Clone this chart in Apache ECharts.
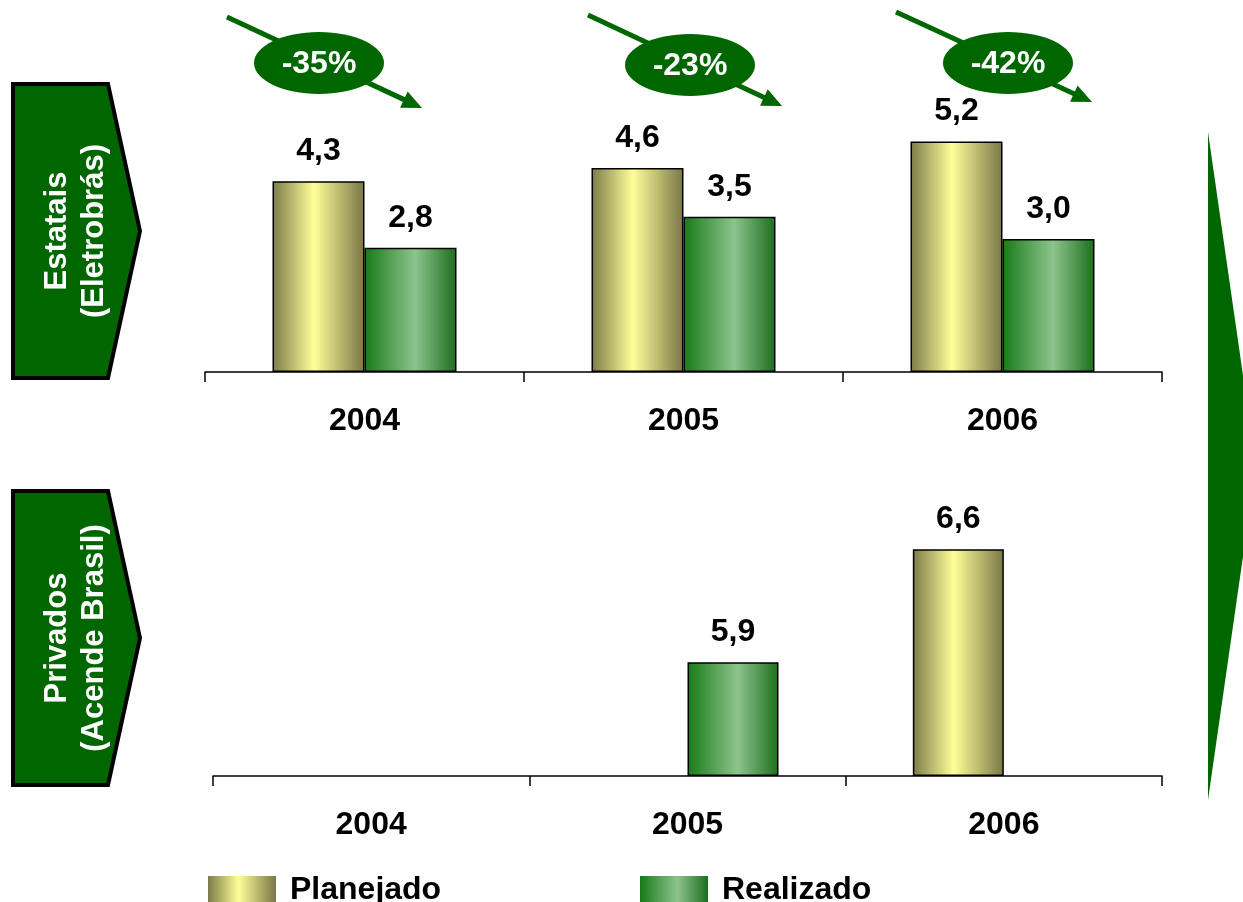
<!DOCTYPE html>
<html>
<head>
<meta charset="utf-8">
<script src="https://cdn.jsdelivr.net/npm/echarts@6/dist/echarts.min.js"></script>
<style>
html,body{margin:0;padding:0;background:#fff;}
#c{width:1243px;height:902px;}
</style>
</head>
<body>
<div id="c"></div>
<script>
var years = ['2004', '2005', '2006'];
var estatPlanejado = [4.3, 4.6, 5.2];
var estatRealizado = [2.8, 3.5, 3.0];
var privPlanejado = [null, null, 6.6];
var privRealizado = [null, 5.9, null];
var variacoes = ['-35%', '-23%', '-42%'];
var seriesNames = ['Planejado', 'Realizado'];
var panelTitles = ['Estatais\n(Eletrobrás)', 'Privados\n(Acende Brasil)'];

var FONT = '"Liberation Sans", Arial, sans-serif';
var FS = 32;
var GREEN = '#006600';

function gradPlan() {
  return new echarts.graphic.LinearGradient(0, 0, 1, 0, [
    {offset: 0, color: '#7b7b49'},
    {offset: 0.45, color: '#ffff99'},
    {offset: 1, color: '#787646'}
  ]);
}
function gradReal() {
  return new echarts.graphic.LinearGradient(0, 0, 1, 0, [
    {offset: 0, color: '#187a18'},
    {offset: 0.55, color: '#8dc48d'},
    {offset: 1, color: '#1d6e1d'}
  ]);
}
var labelCfg = {
  show: true, position: 'top', distance: 14,
  color: '#000', fontWeight: 'bold', fontSize: FS, fontFamily: FONT,
  formatter: function (p) { return p.value == null ? '' : Number(p.value).toFixed(1).replace('.', ','); }
};
function xAxisCfg(gi) {
  return {
    type: 'category', data: years, gridIndex: gi,
    axisLine: {lineStyle: {color: '#000', width: 1.5}},
    axisTick: {show: true, length: 10, lineStyle: {color: '#000', width: 1.5}},
    axisLabel: {color: '#000', fontWeight: 'bold', fontSize: FS, fontFamily: FONT, margin: 33},
    splitLine: {show: false}
  };
}
function yAxisCfg(gi, max) {
  return {type: 'value', gridIndex: gi, min: 0, max: max, show: false, splitLine: {show: false}};
}

// decorative arrows with ellipses
var arrows = [
  {x1: 227, y1: 17, x2: 422, y2: 108, cx: 319, cy: 63},
  {x1: 588, y1: 15, x2: 782, y2: 106, cx: 690, cy: 65},
  {x1: 896, y1: 12, x2: 1092, y2: 102, cx: 1008, cy: 63}
];
var graphics = [];
arrows.forEach(function (a, i) {
  var dx = a.x2 - a.x1, dy = a.y2 - a.y1, L = Math.sqrt(dx * dx + dy * dy);
  var ux = dx / L, uy = dy / L, hl = 20, hw = 9;
  var bx = a.x2 - ux * hl, by = a.y2 - uy * hl;
  graphics.push({type: 'line', shape: {x1: a.x1, y1: a.y1, x2: bx + ux * 2, y2: by + uy * 2}, style: {stroke: GREEN, lineWidth: 5}, z: 10});
  graphics.push({type: 'polygon', shape: {points: [[a.x2, a.y2], [bx - uy * hw, by + ux * hw], [bx + uy * hw, by - ux * hw]]}, style: {fill: GREEN}, z: 10});
  graphics.push({type: 'ellipse', shape: {cx: a.cx, cy: a.cy, rx: 65, ry: 31}, style: {fill: GREEN}, z: 11});
  graphics.push({type: 'text', x: a.cx, y: a.cy + 1, style: {text: variacoes[i], fill: '#fff', font: 'bold ' + FS + 'px ' + FONT, textAlign: 'center', textVerticalAlign: 'middle'}, z: 12});
});
// left pentagon labels
var pents = [{top: 84, bot: 378}, {top: 491, bot: 785}];
pents.forEach(function (p, i) {
  var mid = (p.top + p.bot) / 2;
  graphics.push({type: 'polygon', shape: {points: [[13, p.top], [108, p.top], [140, mid], [108, p.bot], [13, p.bot]]}, style: {fill: GREEN, stroke: '#000', lineWidth: 4}, z: 10});
  graphics.push({type: 'text', x: 76, y: mid, rotation: Math.PI / 2, style: {text: panelTitles[i], fill: '#fff', font: 'bold 31px ' + FONT, textAlign: 'center', textVerticalAlign: 'middle', lineHeight: 37}, z: 12});
});
// right big arrow
graphics.push({type: 'polygon', shape: {points: [[1208, 132], [1256, 466], [1208, 800]]}, style: {fill: GREEN}, z: 10});

var chart = echarts.init(document.getElementById('c'));
chart.setOption({
  animation: false,
  backgroundColor: '#fff',
  grid: [
    {left: 205, right: 81, top: 106, bottom: 530},
    {left: 213, right: 81, top: 501, bottom: 126}
  ],
  xAxis: [xAxisCfg(0), xAxisCfg(1)],
  yAxis: [yAxisCfg(0, 6), yAxisCfg(1, 8), yAxisCfg(1, 14.25)],
  legend: [
    {data: [seriesNames[0]], left: 208, top: 874, icon: 'rect', itemWidth: 68, itemHeight: 28, padding: 0,
     itemStyle: {borderWidth: 0}, textStyle: {color: '#000', fontWeight: 'bold', fontSize: FS, fontFamily: FONT, padding: [0, 0, 0, 9]}},
    {data: [seriesNames[1]], left: 640, top: 874, icon: 'rect', itemWidth: 68, itemHeight: 28, padding: 0,
     itemStyle: {borderWidth: 0}, textStyle: {color: '#000', fontWeight: 'bold', fontSize: FS, fontFamily: FONT, padding: [0, 0, 0, 9]}}
  ],
  graphic: graphics,
  series: [
    {name: seriesNames[0], type: 'bar', xAxisIndex: 0, yAxisIndex: 0, data: estatPlanejado, barWidth: 92, barGap: '0%',
     itemStyle: {color: gradPlan(), borderColor: '#000', borderWidth: 1.5}, label: labelCfg},
    {name: seriesNames[1], type: 'bar', xAxisIndex: 0, yAxisIndex: 0, data: estatRealizado, barWidth: 92, barGap: '0%',
     itemStyle: {color: gradReal(), borderColor: '#000', borderWidth: 1.5}, label: labelCfg},
    {name: seriesNames[0], type: 'bar', xAxisIndex: 1, yAxisIndex: 1, data: privPlanejado, barWidth: 91, barGap: '0%',
     itemStyle: {color: gradPlan(), borderColor: '#000', borderWidth: 1.5}, label: labelCfg},
    {name: seriesNames[1], type: 'bar', xAxisIndex: 1, yAxisIndex: 2, data: privRealizado, barWidth: 91, barGap: '0%',
     itemStyle: {color: gradReal(), borderColor: '#000', borderWidth: 1.5}, label: labelCfg}
  ]
});
</script>
</body>
</html>
